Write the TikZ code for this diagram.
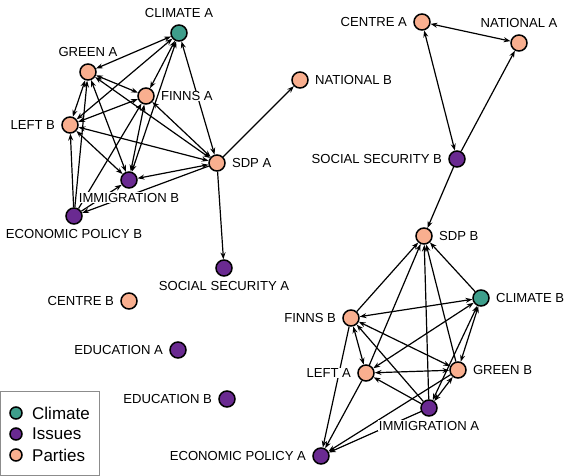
\documentclass[tikz,border=0pt]{standalone}
\usepackage{fontspec}
\setmainfont{Liberation Sans}
\usetikzlibrary{arrows.meta,backgrounds}
\definecolor{climfill}{HTML}{3E9E8B}
\definecolor{issuefill}{HTML}{6A2A91}
\definecolor{partyfill}{HTML}{F9AF8F}
\definecolor{legline}{HTML}{8C8C8C}

\begin{document}
\begin{tikzpicture}[
  x=1pt, y=-1pt,
  font=\fontsize{13.1}{15}\selectfont,
  >={Stealth[length=6.8pt,width=5pt]},
  vtx/.style={circle, draw=black, line width=1.5pt, minimum size=16pt, inner sep=0pt},
  clim/.style={vtx, fill=climfill},
  issue/.style={vtx, fill=issuefill},
  party/.style={vtx, fill=partyfill},
  lbl/.style={fill=white, inner sep=0.6pt},
  every label/.style={lbl},
  label distance=5.5pt,
  edge/.style={line width=1.2pt},
  legdot/.style={vtx, minimum size=12pt},
  legtxt/.style={anchor=west, inner sep=0pt, font=\fontsize{17}{20}\selectfont}
]
  \useasboundingbox (0,0) rectangle (581,476);

  % election A / B (left group)
  \node[clim]  (climA)  at (179,33)  [label={[lbl]above:CLIMATE A}] {};
  \node[party] (greenA) at (88,72)   [label={[lbl]above:GREEN A}] {};
  \node[party] (finnsA) at (146,96)  [label={[lbl]right:FINNS A}] {};
  \node[party] (leftB)  at (70,125)  [label={[lbl]left:LEFT B}] {};
  \node[party] (sdpA)   at (217,163) [label={[lbl]right:SDP A}] {};
  \node[issue] (immB)   at (129,180) [label={[lbl, label distance=3.5pt]below:IMMIGRATION B}] {};
  \node[issue] (econB)  at (74,216)  [label={[lbl, label distance=3.5pt]below:ECONOMIC POLICY B}] {};
  \node[party] (natB)   at (300,80)  [label={[lbl]right:NATIONAL B}] {};
  \node[issue] (socA)   at (224,268) [label={[lbl, label distance=3.5pt]below:SOCIAL SECURITY A}] {};
  % loose nodes
  \node[party] (centB)  at (129,301) [label={[lbl]left:CENTRE B}] {};
  \node[issue] (eduA)   at (178,350) [label={[lbl]left:EDUCATION A}] {};
  \node[issue] (eduB)   at (227,399) [label={[lbl]left:EDUCATION B}] {};
  % right group
  \node[party] (centA)  at (422,22)  [label={[lbl]left:CENTRE A}] {};
  \node[party] (natA)   at (519,43)  [label={[lbl]above:NATIONAL A}] {};
  \node[issue] (socB)   at (457,159) [label={[lbl]left:SOCIAL SECURITY B}] {};
  \node[party] (sdpB)   at (424,236) [label={[lbl]right:SDP B}] {};
  \node[clim]  (climB)  at (481,298) [label={[lbl]right:CLIMATE B}] {};
  \node[party] (finnsB) at (351,318) [label={[lbl]left:FINNS B}] {};
  \node[party] (leftA)  at (366,373) [label={[lbl]left:LEFT A}] {};
  \node[party] (greenB) at (458,370) [label={[lbl]right:GREEN B}] {};
  \node[issue] (immA)   at (429,408) [label={[lbl, label distance=3.5pt]below:IMMIGRATION A}] {};
  \node[issue] (econA)  at (321,456) [label={[lbl]left:ECONOMIC POLICY A}] {};

  \begin{scope}[on background layer]
    % left group
    \draw[edge, <->] (climA) -- (greenA);
    \draw[edge, <->] (climA) -- (leftB);
    \draw[edge, <->] (climA) -- (finnsA);
    \draw[edge, <->] (climA) -- (immB);
    \draw[edge, <->] (climA) -- (sdpA);
    \draw[edge, <->] (greenA) -- (finnsA);
    \draw[edge, <->] (greenA) -- (leftB);
    \draw[edge, <->] (greenA) -- (immB);
    \draw[edge, <->] (greenA) -- (sdpA);
    \draw[edge, <->] (finnsA) -- (leftB);
    \draw[edge, <->] (finnsA) -- (immB);
    \draw[edge, <->] (finnsA) -- (sdpA);
    \draw[edge, <->] (leftB) -- (immB);
    \draw[edge, <->] (leftB) -- (sdpA);
    \draw[edge, <->] (immB) -- (sdpA);
    \draw[edge, ->] (econB) -- (greenA);
    \draw[edge, ->] (econB) -- (leftB);
    \draw[edge, ->] (econB) -- (finnsA);
    \draw[edge, ->] (econB) -- (immB);
    \draw[edge, ->] (sdpA) -- (econB);
    \draw[edge, ->] (sdpA) -- (natB);
    \draw[edge, ->] (sdpA) -- (socA);
    % top right
    \draw[edge, <->] (centA) -- (natA);
    \draw[edge, <->] (centA) -- (socB);
    \draw[edge, ->] (socB) -- (natA);
    \draw[edge, ->] (socB) -- (sdpB);
    % bottom right
    \draw[edge, ->] (finnsB) -- (sdpB);
    \draw[edge, ->] (leftA) -- (sdpB);
    \draw[edge, ->] (immA) -- (sdpB);
    \draw[edge, ->] (greenB) -- (sdpB);
    \draw[edge, ->] (climB) -- (sdpB);
    \draw[edge, <->] (finnsB) -- (climB);
    \draw[edge, <->] (leftA) -- (climB);
    \draw[edge, <->] (finnsB) -- (leftA);
    \draw[edge, <->] (finnsB) -- (greenB);
    \draw[edge, ->] (immA) -- (finnsB);
    \draw[edge, <->] (leftA) -- (greenB);
    \draw[edge, ->] (immA) -- (leftA);
    \draw[edge, <->] (greenB) -- (climB);
    \draw[edge, <->] (immA) -- (climB);
    \draw[edge, <->] (greenB) -- (immA);
    \draw[edge, ->] (finnsB) -- (econA);
    \draw[edge, ->] (leftA) -- (econA);
    \draw[edge, ->] (immA) -- (econA);
    \draw[edge, ->] (greenB) -- (econA);
  \end{scope}

  % legend
  \draw[legline, line width=0.8pt] (0.5,391) rectangle (99,475.5);
  \node[legdot, fill=climfill]  (legclim)  at (16,413) {};
  \node[legdot, fill=issuefill] (legissue) at (16,434) {};
  \node[legdot, fill=partyfill] (legparty) at (16,455) {};
  \node[legtxt] (legclimtxt)  at (32,413) {Climate};
  \node[legtxt] (legissuetxt) at (32,434) {Issues};
  \node[legtxt] (legpartytxt) at (32,455) {Parties};
\end{tikzpicture}
\end{document}
